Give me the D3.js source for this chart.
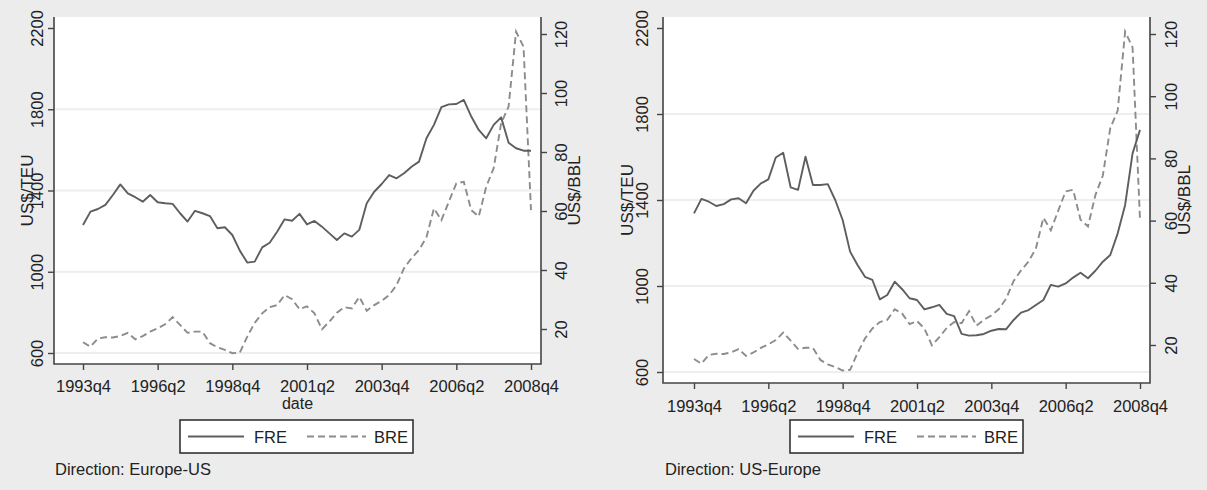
<!DOCTYPE html>
<html>
<head>
<meta charset="utf-8">
<script src="https://cdn.jsdelivr.net/npm/d3@7"></script>
<style>
  html, body { margin: 0; padding: 0; background: #ececec; }
  svg { display: block; font-family: "Liberation Sans", Arial, sans-serif; }
  .tick line { stroke: #444; stroke-width: 1.4px; }
  .tick text { fill: #222; font-size: 16.5px; }
</style>
</head>
<body>
<div id="vis"></div>
<script>
let W = 1207; // width
let H = 490;  // height

// quarter index 0 = 1993q4 ... 60 = 2008q4
let quarterTicks = [0, 10, 20, 30, 40, 50, 60];
let quarterLabels = ['1993q4', '1996q2', '1998q4', '2001q2', '2003q4', '2006q2', '2008q4'];
let freTicks = [600, 1000, 1400, 1800, 2200];
let breTicks = [20, 40, 60, 80, 100, 120];
let seriesNames = ['FRE', 'BRE'];

// freight rate Europe-US, US$/TEU
let freEuropeUS = [1230, 1296, 1309, 1329, 1378, 1430, 1386, 1367, 1345, 1378,
	1342, 1337, 1334, 1288, 1247, 1300, 1288, 1274, 1214, 1219,
	1181, 1104, 1045, 1050, 1120, 1143, 1197, 1258, 1251, 1285,
	1233, 1250, 1222, 1189, 1156, 1189, 1173, 1206, 1337, 1394,
	1432, 1476, 1460, 1485, 1517, 1542, 1657, 1723, 1810, 1824,
	1826, 1846, 1764, 1698, 1657, 1723, 1760, 1635, 1608, 1596, 1596];

// freight rate US-Europe, US$/TEU
let freUSEurope = [1338, 1405, 1392, 1372, 1381, 1403, 1408, 1385, 1443, 1477,
	1496, 1598, 1620, 1459, 1447, 1601, 1470, 1470, 1474, 1400,
	1307, 1160, 1098, 1043, 1028, 938, 958, 1020, 985, 943,
	935, 891, 901, 912, 870, 860, 777, 769, 771, 777,
	792, 800, 799, 842, 876, 888, 912, 935, 1005, 997,
	1012, 1039, 1062, 1036, 1071, 1113, 1144, 1245, 1377, 1617, 1726];

// Brent oil price, US$/BBL
let bre = [15.5, 14.0, 16.8, 17.2, 17.1, 17.6, 18.7, 16.5, 17.6, 19.1,
	20.2, 21.6, 24.0, 21.4, 18.7, 19.1, 19.1, 15.2, 13.8, 12.9,
	11.8, 12.0, 17.4, 22.1, 25.3, 27.4, 28.1, 31.5, 30.1, 26.7,
	27.7, 25.3, 19.9, 22.5, 25.5, 27.4, 27.0, 30.9, 26.2, 28.1,
	29.5, 31.5, 34.9, 40.6, 44.0, 46.8, 51.1, 60.9, 56.9, 63.2,
	69.4, 69.9, 60.3, 58.1, 68.2, 74.5, 89.7, 95.4, 120.8, 115.7, 60.3];

let panels = [
	{
		fre: freEuropeUS, note: 'Direction: Europe-US', xTitle: 'date',
		plot: {x0: 54, x1: 541, y0: 17, y1: 364},
		xRange: [83, 531], freRange: [353, 28], breRange: [329, 34],
		xLab: 27.5, lLab: -11, lTitle: -21, rLab: 26, rTitle: 39,
		legendX: 180, noteX: 55
	},
	{
		fre: freUSEurope, note: 'Direction: US-Europe', xTitle: null,
		plot: {x0: 663, x1: 1150, y0: 17, y1: 383},
		xRange: [694, 1140], freRange: [372, 28], breRange: [345, 34],
		xLab: 28.5, lLab: -15, lTitle: -30, rLab: 27, rTitle: 40,
		legendX: 790, noteX: 665
	}
];

let svg = d3.select('#vis').append('svg').attr('width', W).attr('height', H);
svg.append('rect').attr('width', W).attr('height', H).attr('fill', '#ececec');

/**
 * Draws one Stata-like panel with two y axes
 */
function drawPanel(p) {
	let g = svg.append('g');
	let pl = p.plot;

	let x = d3.scaleLinear().domain([0, 60]).range(p.xRange);
	let yL = d3.scaleLinear().domain([600, 2200]).range(p.freRange);
	let yR = d3.scaleLinear().domain([20, 120]).range(p.breRange);

	// plot region
	g.append('rect').attr('x', pl.x0).attr('y', pl.y0)
			.attr('width', pl.x1 - pl.x0).attr('height', pl.y1 - pl.y0).attr('fill', '#fff');

	// gridlines
	g.selectAll('.grid').data(freTicks.filter(d => d < 2200)).enter().append('line')
			.attr('x1', pl.x0 + 1).attr('x2', pl.x1 - 1)
			.attr('y1', d => yL(d)).attr('y2', d => yL(d))
			.attr('stroke', '#eeeeee').attr('stroke-width', 2);

	// lines
	let idx = d3.range(p.fre.length);
	g.append('path').datum(idx)
			.attr('d', d3.line().x(i => x(i)).y(i => yR(bre[i])))
			.attr('fill', 'none').attr('stroke', '#8c8c8c').attr('stroke-width', 1.9)
			.attr('stroke-dasharray', '7,4');
	g.append('path').datum(idx)
			.attr('d', d3.line().x(i => x(i)).y(i => yL(p.fre[i])))
			.attr('fill', 'none').attr('stroke', '#5e5e5e').attr('stroke-width', 1.9)
			.attr('stroke-linejoin', 'round');

	// axes
	let xAxis = g.append('g').attr('transform', `translate(0, ${pl.y1})`)
			.call(d3.axisBottom(x).tickValues(quarterTicks).tickSize(6)
					.tickFormat((d, i) => quarterLabels[i]));
	xAxis.selectAll('text').attr('y', p.xLab).attr('dy', 0);

	let lAxis = g.append('g').attr('transform', `translate(${pl.x0}, 0)`)
			.call(d3.axisLeft(yL).tickValues(freTicks).tickSize(6).tickFormat(d3.format('d')));
	lAxis.selectAll('text').attr('transform', 'rotate(-90)')
			.attr('x', 0).attr('y', p.lLab).attr('dy', 0).attr('text-anchor', 'middle');

	let rAxis = g.append('g').attr('transform', `translate(${pl.x1}, 0)`)
			.call(d3.axisRight(yR).tickValues(breTicks).tickSize(6).tickFormat(d3.format('d')));
	rAxis.selectAll('text').attr('transform', 'rotate(-90)')
			.attr('x', 0).attr('y', p.rLab).attr('dy', 0).attr('text-anchor', 'middle');

	[xAxis, lAxis, rAxis].forEach(a => a.select('.domain').remove());

	// frame lines (left, bottom, right)
	g.append('path')
			.attr('d', `M${pl.x0},${pl.y0}V${pl.y1}H${pl.x1}V${pl.y0}`)
			.attr('fill', 'none').attr('stroke', '#444').attr('stroke-width', 1.6);

	// axis titles
	let cy = (pl.y0 + pl.y1) / 2;
	g.append('text').text('US$/TEU')
			.attr('transform', `translate(${pl.x0 + p.lTitle}, ${cy}) rotate(-90)`)
			.attr('text-anchor', 'middle').attr('font-size', 17).attr('fill', '#222');
	g.append('text').text('US$/BBL')
			.attr('transform', `translate(${pl.x1 + p.rTitle}, ${cy}) rotate(-90)`)
			.attr('text-anchor', 'middle').attr('font-size', 17).attr('fill', '#222');
	if (p.xTitle) {
		g.append('text').text(p.xTitle)
				.attr('x', (pl.x0 + pl.x1) / 2).attr('y', 408.5)
				.attr('text-anchor', 'middle').attr('font-size', 16).attr('fill', '#222');
	}

	// legend
	let lg = g.append('g').attr('transform', `translate(${p.legendX}, 420)`);
	lg.append('rect').attr('width', 233).attr('height', 33)
			.attr('fill', '#fff').attr('stroke', '#333').attr('stroke-width', 1.6);
	lg.append('line').attr('x1', 8).attr('x2', 64).attr('y1', 16.5).attr('y2', 16.5)
			.attr('stroke', '#5e5e5e').attr('stroke-width', 1.9);
	lg.append('line').attr('x1', 127).attr('x2', 186).attr('y1', 16.5).attr('y2', 16.5)
			.attr('stroke', '#8c8c8c').attr('stroke-width', 1.9).attr('stroke-dasharray', '7,4');
	lg.append('text').text(seriesNames[0]).attr('x', 74).attr('y', 23)
			.attr('font-size', 16.5).attr('fill', '#222');
	lg.append('text').text(seriesNames[1]).attr('x', 194).attr('y', 23)
			.attr('font-size', 16.5).attr('fill', '#222');

	// note
	g.append('text').text(p.note).attr('x', p.noteX).attr('y', 475)
			.attr('font-size', 16.5).attr('fill', '#222');
}

panels.forEach(p => drawPanel(p));
</script>
</body>
</html>
